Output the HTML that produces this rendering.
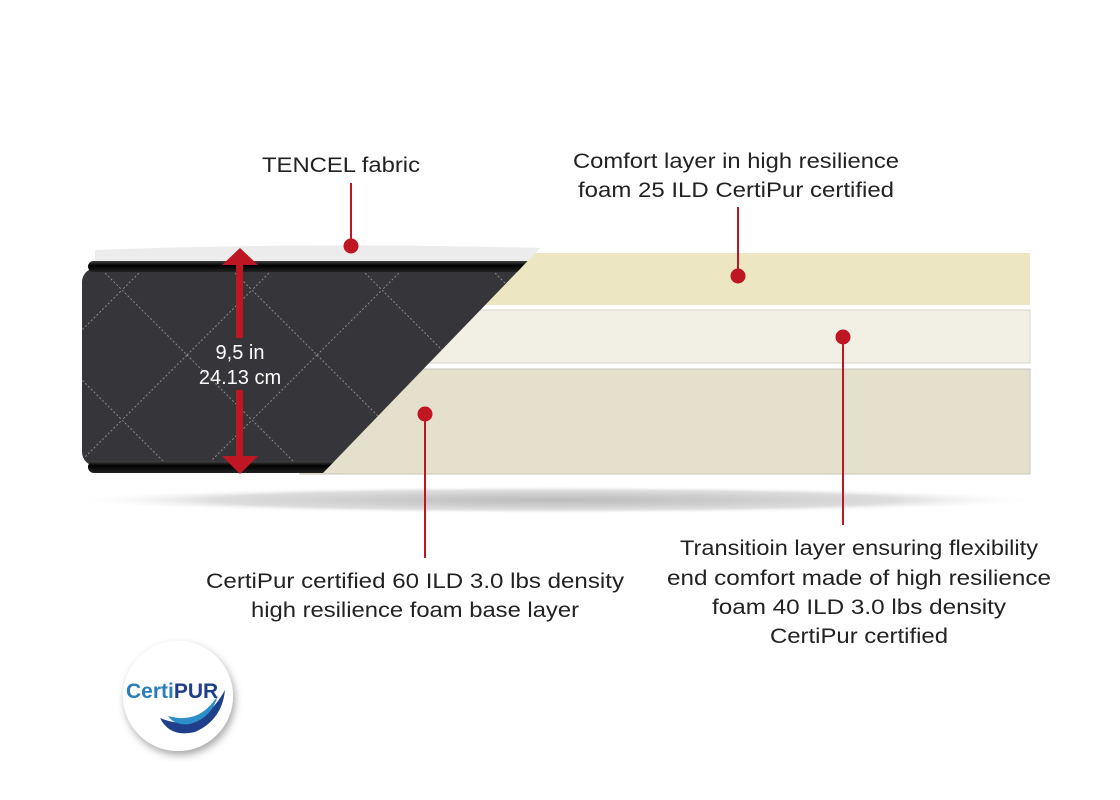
<!DOCTYPE html>
<html><head><meta charset="utf-8"><style>
html,body{margin:0;padding:0;background:#fff;width:1120px;height:800px;overflow:hidden}
svg text{font-family:"Liberation Sans",Arial,sans-serif}
</style></head><body>
<svg width="1120" height="800" viewBox="0 0 1120 800" xmlns="http://www.w3.org/2000/svg">
<defs>
<radialGradient id="sh" cx="50%" cy="50%" r="50%">
<stop offset="0" stop-color="#bbb"/><stop offset="0.7" stop-color="#ddd"/><stop offset="1" stop-color="#fff" stop-opacity="0"/>
</radialGradient>
<linearGradient id="band" x1="0" y1="0" x2="0" y2="1"><stop offset="0" stop-color="#444"/><stop offset="0.4" stop-color="#000"/><stop offset="1" stop-color="#222"/></linearGradient>
<clipPath id="mclip"><polygon points="60,240 548,240 322,474 60,474"/></clipPath>
<pattern id="quilt" x="0" y="0" width="130" height="130" patternUnits="userSpaceOnUse" patternTransform="translate(122,290)">
<path d="M0,0 L65,65 L0,130 M65,65 L130,0 M65,65 L130,130" stroke="#8a8a8a" stroke-width="1" stroke-dasharray="2,2" fill="none"/>
</pattern>
<filter id="ds" x="-20%" y="-20%" width="140%" height="140%"><feDropShadow dx="2" dy="4" stdDeviation="4" flood-color="#000" flood-opacity="0.35"/></filter>
</defs>
<ellipse cx="555" cy="500" rx="490" ry="14" fill="url(#sh)"/>
<rect x="300" y="253" width="730" height="52" fill="#ece7c2"/>
<rect x="300" y="310" width="730" height="53" fill="#f2f0e4" stroke="#d8d6cc" stroke-width="1"/>
<rect x="300" y="369" width="730" height="105" fill="#e4e0cc" stroke="#c9c6b8" stroke-width="1"/>
<g clip-path="url(#mclip)">
<path d="M95,250 Q300,242 545,248 L545,264 L95,264 Z" fill="#ececec"/>
<rect x="82" y="268" width="470" height="198" rx="14" fill="#36363a"/>
<rect x="82" y="268" width="470" height="198" rx="14" fill="url(#quilt)"/>
<rect x="88" y="261" width="470" height="11" rx="5.5" fill="url(#band)"/>
<rect x="88" y="461" width="470" height="12" rx="6" fill="url(#band)"/>
</g>
<rect x="236" y="262" width="7" height="76" fill="#be1622"/>
<rect x="236" y="390" width="7" height="70" fill="#be1622"/>
<polygon points="240,248 258,265 222,265" fill="#be1622"/>
<polygon points="240,474 258,456 222,456" fill="#be1622"/>
<text x="240" y="359" font-size="20" fill="#fff" text-anchor="middle">9,5 in</text>
<text x="240" y="384" font-size="20" fill="#fff" text-anchor="middle">24.13 cm</text>
<g stroke="#be1622" stroke-width="2">
<line x1="351" y1="183" x2="351" y2="246"/>
<line x1="738" y1="207" x2="738" y2="275"/>
<line x1="843" y1="337" x2="843" y2="525"/>
<line x1="425" y1="414" x2="425" y2="558"/>
</g>
<g fill="#be1622">
<circle cx="351" cy="246" r="7.5"/><circle cx="738" cy="276" r="7.5"/>
<circle cx="843" cy="337" r="7.5"/><circle cx="425" cy="414" r="7.5"/>
</g>
<g font-size="21" fill="#222" text-anchor="middle">
<text x="341" y="172" textLength="158" lengthAdjust="spacingAndGlyphs">TENCEL fabric</text>
<text x="736" y="168" textLength="326" lengthAdjust="spacingAndGlyphs">Comfort layer in high resilience</text>
<text x="736" y="197" textLength="316" lengthAdjust="spacingAndGlyphs">foam 25 ILD CertiPur certified</text>
<text x="415" y="588" textLength="418" lengthAdjust="spacingAndGlyphs">CertiPur certified 60 ILD 3.0 lbs density</text>
<text x="415" y="617" textLength="328" lengthAdjust="spacingAndGlyphs">high resilience foam base layer</text>
<text x="859" y="555" textLength="358" lengthAdjust="spacingAndGlyphs">Transitioin layer ensuring flexibility</text>
<text x="859" y="585" textLength="384" lengthAdjust="spacingAndGlyphs">end comfort made of high resilience</text>
<text x="859" y="614" textLength="294" lengthAdjust="spacingAndGlyphs">foam 40 ILD 3.0 lbs density</text>
<text x="859" y="643" textLength="178" lengthAdjust="spacingAndGlyphs">CertiPur certified</text>
</g>
<circle cx="178" cy="696" r="55" fill="#fff" filter="url(#ds)"/>
<path d="M160,718 Q200,735 225,690 Q222,720 195,732 Q170,738 160,718 Z" fill="#1f3f8a"/>
<path d="M168,716 Q200,725 218,695 Q212,718 190,724 Q175,726 168,716 Z" fill="#2b8fc9"/>
<text x="126" y="698" font-size="21" font-weight="bold" fill="#2b7fb8">Certi<tspan fill="#1f3f8a">PUR</tspan></text>
</svg>
</body></html>
